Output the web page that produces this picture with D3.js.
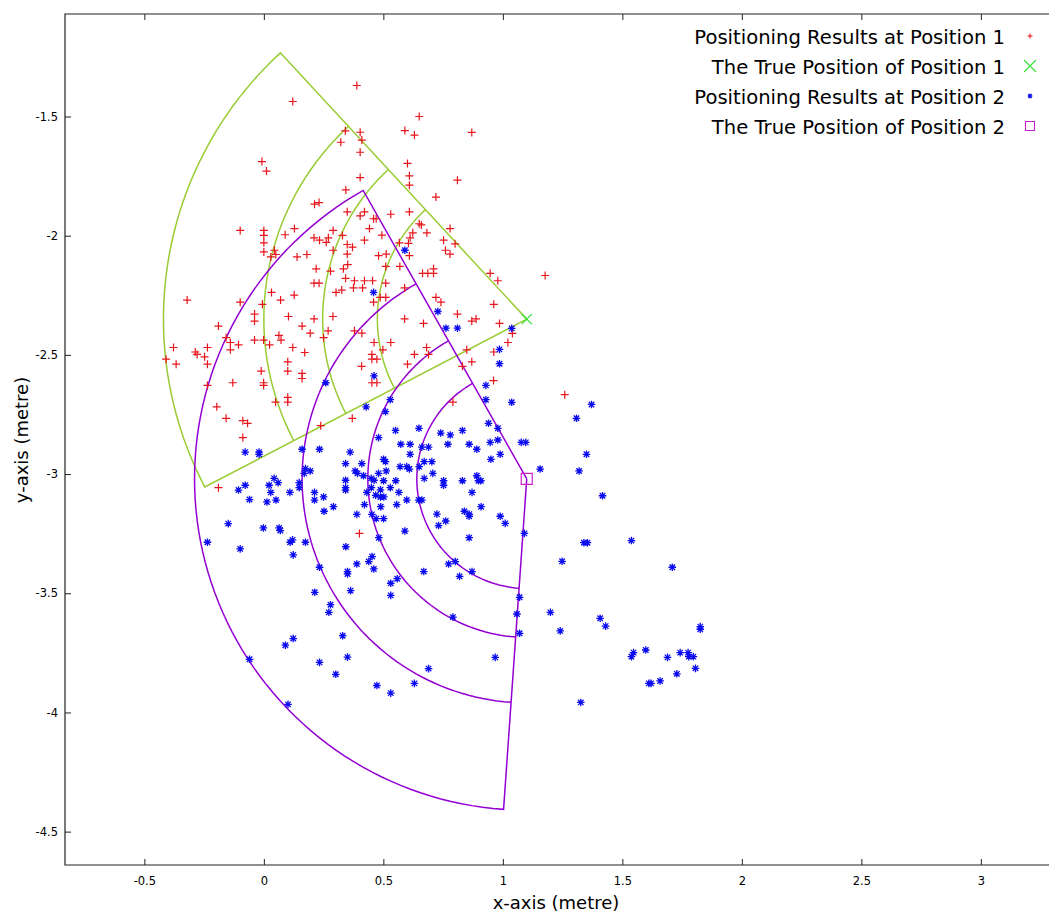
<!DOCTYPE html>
<html>
<head>
<meta charset="utf-8">
<script src="https://cdn.jsdelivr.net/npm/d3@7"></script>
<style>
body{margin:0;background:#fff}
svg{display:block}
text{font-family:"DejaVu Sans",Verdana,sans-serif;fill:#000}
</style>
</head>
<body>
<svg></svg>
<script>
// axis ticks
var xTicks = [-0.5, 0, 0.5, 1, 1.5, 2, 2.5, 3]
var yTicks = [-1.5, -2, -2.5, -3, -3.5, -4, -4.5]
var legendLabels = ["Positioning Results at Position 1", "The True Position of Position 1",
                    "Positioning Results at Position 2", "The True Position of Position 2"]

// true positions and the sectors drawn around them (radii in metre, angles in degrees)
var truePos1 = [1.1, -2.35]
var truePos2 = [1.1, -3.02]
var sector1Radii = [0.625, 0.854, 1.10, 1.52]
var sector1Angles = [132.7, 207.6]
var sector2Radii = [0.46, 0.665, 0.94, 1.39]
var sector2Angles = [119.5, 266]

// positioning results at position 1 (x, y)
var results1 = [
[0.121,-1.437],[-0.008,-1.689],[0.011,-1.729],[0.341,-1.560],[0.322,-1.608],[0.343,-1.808],[0.212,-1.868],[0.231,-1.861],
[0.349,-1.900],[-0.099,-1.978],[0.000,-1.978],[0.000,-1.999],[0.000,-2.030],[0.000,-2.068],[0.089,-1.996],[0.128,-1.970],
[0.044,-2.061],[0.050,-2.079],[0.029,-2.089],[0.139,-2.089],[0.180,-2.079],[0.210,-2.009],[0.233,-2.019],[0.261,-2.028],
[0.270,-2.009],[0.290,-1.978],[0.329,-1.999],[0.349,-2.037],[0.290,-2.061],[0.349,-2.077],
[0.389,-1.370],[0.650,-1.500],[0.590,-1.559],[0.630,-1.578],[0.870,-1.567],[0.403,-1.566],[0.410,-1.599],[0.403,-1.650],
[0.601,-1.697],[0.609,-1.749],[0.609,-1.788],[0.810,-1.767],[0.403,-1.756],[0.720,-1.838],[0.403,-1.917],[0.421,-1.900],
[0.459,-1.929],[0.470,-1.929],[0.531,-1.910],[0.609,-1.900],[0.650,-1.950],[0.659,-1.955],[0.682,-1.988],[0.623,-1.988],
[0.612,-2.009],[0.605,-2.032],[0.567,-2.030],[0.609,-2.084],[0.442,-1.970],[0.494,-1.998],[0.421,-2.019],[0.371,-2.048],
[0.480,-2.084],[0.512,-2.077],[0.752,-2.019],[0.760,-2.061],[0.779,-2.077],[0.800,-2.034],[0.779,-1.970],
[0.219,-2.139],[0.279,-2.149],[0.333,-2.139],[0.351,-2.121],[0.510,-2.129],[0.569,-2.129],[0.342,-2.179],[0.379,-2.189],
[0.421,-2.189],[0.455,-2.189],[0.510,-2.199],[0.210,-2.199],[0.231,-2.199],[0.302,-2.238],[0.326,-2.228],[0.375,-2.219],
[0.413,-2.219],[0.664,-2.158],[0.686,-2.158],[0.710,-2.139],[0.710,-2.158],[0.947,-2.158],[0.979,-2.189],[1.177,-2.167],
[-0.321,-2.270],[-0.099,-2.279],[-0.006,-2.288],[0.070,-2.270],[0.127,-2.249],[0.032,-2.238],[0.459,-2.279],[0.487,-2.259],
[0.510,-2.259],[0.589,-2.219],[0.720,-2.259],[0.741,-2.279],[-0.039,-2.329],[-0.039,-2.358],[0.103,-2.339],[0.210,-2.349],
[0.289,-2.339],[0.589,-2.349],[0.668,-2.368],[0.810,-2.329],[0.870,-2.358],[0.888,-2.349],[0.962,-2.288],[0.986,-2.368],
[-0.190,-2.379],[0.160,-2.379],[0.194,-2.409],[0.269,-2.399],[0.250,-2.428],[0.379,-2.399],[0.410,-2.409],[0.063,-2.418],
[0.072,-2.438],[-0.039,-2.438],[-0.001,-2.438],[0.024,-2.458],[0.121,-2.469],[0.171,-2.490],[0.461,-2.448],[0.531,-2.448],
[0.681,-2.469],[0.689,-2.498],[0.630,-2.498],[0.601,-2.539],[-0.378,-2.469],[-0.367,-2.539],[-0.409,-2.518],[-0.287,-2.488],
[-0.279,-2.498],[-0.248,-2.508],[-0.236,-2.469],[-0.236,-2.539],[-0.140,-2.448],[-0.140,-2.479],[-0.106,-2.458],[-0.158,-2.428],
[-0.011,-2.568],[-0.001,-2.617],[-0.001,-2.628],[0.100,-2.529],[0.100,-2.568],[0.160,-2.578],[0.160,-2.599],[0.452,-2.498],
[0.452,-2.518],[0.473,-2.518],[0.498,-2.479],[0.452,-2.617],[0.473,-2.617],[0.409,-2.548],[0.849,-2.479],[0.870,-2.529],
[0.962,-2.488],[1.021,-2.448],[0.831,-2.548],[0.961,-2.608],[-0.236,-2.628],[-0.130,-2.617],[-0.197,-2.718],[-0.158,-2.766],
[-0.088,-2.776],[-0.068,-2.787],[-0.088,-2.847],[0.049,-2.698],[0.100,-2.678],[0.100,-2.698],[0.370,-2.766],[0.238,-2.797],
[-0.190,-3.057],[0.791,-2.698],[0.400,-3.249],[1.259,-2.667],[1.040,-2.410]
]

// positioning results at position 2 (x, y)
var results2 = [
[0.590,-2.061],[0.459,-2.238],[0.728,-2.318],[0.762,-2.388],[0.810,-2.388],[1.037,-2.389],[0.986,-2.477],[0.986,-2.537],
[0.461,-2.588],[0.259,-2.617],[0.929,-2.628],[0.929,-2.688],[1.037,-2.699],[0.529,-2.688],[0.428,-2.718],[0.509,-2.738],
[0.940,-2.787],[0.979,-2.808],[0.551,-2.817],[0.649,-2.808],[0.740,-2.828],[0.780,-2.836],[0.831,-2.817],[1.077,-2.867],
[1.096,-2.867],[0.480,-2.847],[0.361,-2.908],[0.160,-2.896],[0.233,-2.896],[-0.078,-2.908],[-0.020,-2.908],[-0.020,-2.917],
[0.573,-2.875],[0.612,-2.875],[0.612,-2.917],[0.661,-2.887],[0.689,-2.887],[0.770,-2.875],[0.859,-2.875],[0.891,-2.896],
[0.947,-2.867],[0.979,-2.857],[0.950,-2.938],[0.989,-2.917],[1.156,-2.979],[0.342,-2.956],[0.410,-2.956],[0.501,-2.938],
[0.509,-2.948],[0.671,-2.948],[0.703,-2.948],[0.650,-2.969],[0.570,-2.969],[0.598,-2.969],[0.609,-2.979],[0.512,-2.987],
[0.480,-2.997],[0.174,-2.977],[0.194,-2.987],[0.169,-2.997],[0.382,-2.987],[0.392,-2.997],[0.417,-3.007],[0.449,-3.018],
[0.342,-3.026],[0.461,-3.026],[0.501,-3.028],[0.552,-3.028],[0.671,-3.018],[0.707,-2.997],[0.752,-3.028],[0.752,-3.047],
[0.831,-3.028],[0.891,-3.007],[0.898,-3.028],[0.908,-3.028],[0.043,-3.018],[0.022,-3.047],[0.060,-3.036],[0.148,-3.036],
[0.148,-3.057],[-0.078,-3.047],[-0.106,-3.067],[0.342,-3.057],[0.342,-3.067],[0.450,-3.057],[0.488,-3.066],[0.529,-3.057],
[0.431,-3.077],[0.468,-3.089],[0.488,-3.096],[0.502,-3.096],[0.565,-3.077],[0.598,-3.109],[0.648,-3.109],[0.661,-3.109],
[0.871,-3.077],[0.212,-3.077],[0.212,-3.109],[0.250,-3.096],[0.029,-3.077],[-0.060,-3.107],[0.013,-3.117],[0.051,-3.109],
[0.109,-3.077],[0.252,-3.156],[0.291,-3.137],[0.421,-3.128],[0.489,-3.137],[0.556,-3.128],[0.724,-3.168],[0.731,-3.216],
[0.761,-3.197],[0.839,-3.156],[0.859,-3.168],[0.859,-3.177],[0.909,-3.137],[0.989,-3.177],[1.010,-3.207],[1.090,-3.249],
[0.859,-3.267],[0.389,-3.169],[0.452,-3.169],[0.470,-3.187],[0.501,-3.187],[0.590,-3.239],[0.481,-3.267],[0.343,-3.305],
[0.174,-3.286],[0.110,-3.286],[0.120,-3.276],[-0.002,-3.226],[0.064,-3.226],[0.069,-3.237],[-0.149,-3.208],[-0.236,-3.286],
[-0.099,-3.314],
[0.123,-3.339],[0.389,-3.377],[0.439,-3.367],[0.453,-3.346],[0.460,-3.398],[0.350,-3.409],[0.350,-3.419],[0.363,-3.489],
[0.531,-3.458],[0.558,-3.439],[0.531,-3.509],[0.233,-3.391],[0.213,-3.496],[0.279,-3.548],[0.272,-3.580],[0.669,-3.409],
[0.773,-3.377],[0.801,-3.367],[0.819,-3.429],[0.871,-3.409],[1.070,-3.517],[1.059,-3.587],[1.070,-3.668],[0.791,-3.600],
[0.330,-3.678],[0.123,-3.690],[0.090,-3.718],[-0.060,-3.777],[0.233,-3.790],[0.350,-3.768],[0.301,-3.840],[0.473,-3.887],
[0.531,-3.919],[0.630,-3.878],[0.689,-3.816],[0.968,-3.769],[0.101,-3.966],
[1.308,-2.766],[1.371,-2.708],[1.350,-2.917],[1.319,-2.987],[1.417,-3.091],[1.339,-3.288],[1.354,-3.288],[1.538,-3.279],
[1.709,-3.391],[1.248,-3.366],[1.199,-3.580],[1.240,-3.658],[1.407,-3.605],[1.430,-3.638],[1.826,-3.651],[1.826,-3.640],
[1.547,-3.749],[1.538,-3.766],[1.598,-3.738],[1.689,-3.769],[1.742,-3.749],[1.775,-3.749],[1.778,-3.766],[1.797,-3.766],
[1.806,-3.815],[1.728,-3.838],[1.658,-3.868],[1.611,-3.878],[1.620,-3.878],[1.326,-3.958]
]

function main(){
    var width = 1049
    var height = 913
    var left = 65, top = 14, bottom = 865
    var svg = d3.select('svg').attr("width", width).attr("height", height)

    var xScale = d3.scaleLinear().domain([-0.832, 3.3]).range([left, left + 4.132*239])
    var yScale = d3.scaleLinear().domain([-4.64, -1.07]).range([bottom, top])
    var right = xScale(3.3)

    svg.append("clipPath").attr("id", "plotclip")
        .append("rect").attr("x", left).attr("y", top)
        .attr("width", right-left).attr("height", bottom-top)

    var plot = svg.append("g").attr("clip-path", "url(#plotclip)")

    // sectors
    var line = d3.line().x(d => xScale(d[0])).y(d => yScale(d[1]))
    function sectorLines(c, radii, ang){
        var a0 = ang[0]*Math.PI/180, a1 = ang[1]*Math.PI/180
        var rMax = d3.max(radii)
        var arcPts = r => d3.range(0, 81).map(i => {
            var a = a0 + (a1-a0)*i/80
            return [c[0] + r*Math.cos(a), c[1] + r*Math.sin(a)]
        })
        var outline = [c].concat(arcPts(rMax)).concat([c])
        return [outline].concat(radii.filter(r => r < rMax).map(arcPts))
    }
    plot.selectAll(".sec1").data(sectorLines(truePos1, sector1Radii, sector1Angles))
        .join("path").attr("class", "sec1")
        .attr("d", line).attr("fill", "none")
        .attr("stroke", "#99cc33").attr("stroke-width", 1.5)
    plot.selectAll(".sec2").data(sectorLines(truePos2, sector2Radii, sector2Angles))
        .join("path").attr("class", "sec2")
        .attr("d", line).attr("fill", "none")
        .attr("stroke", "#9400d3").attr("stroke-width", 1.5)

    // point symbols
    var plus = s => `M${-s},0H${s}M0,${-s}V${s}`
    var cross = s => `M${-s},${-s}L${s},${s}M${-s},${s}L${s},${-s}`
    var star = s => plus(s) + cross(s*0.72)
    var square = s => `M${-s},${-s}H${s}V${s}H${-s}Z`

    plot.selectAll(".p1").data(results1).join("path").attr("class", "p1")
        .attr("transform", d => `translate(${xScale(d[0])},${yScale(d[1])})`)
        .attr("d", plus(4)).attr("fill", "none").attr("stroke", "#e8141b").attr("stroke-width", 1.2)

    plot.append("path")
        .attr("transform", `translate(${xScale(truePos1[0])},${yScale(truePos1[1])})`)
        .attr("d", cross(5)).attr("fill", "none").attr("stroke", "#33e033").attr("stroke-width", 1.3)

    plot.selectAll(".p2").data(results2).join("path").attr("class", "p2")
        .attr("transform", d => `translate(${xScale(d[0])},${yScale(d[1])})`)
        .attr("d", star(3.8)).attr("fill", "none").attr("stroke", "#0a0af0").attr("stroke-width", 1.3)

    plot.append("path")
        .attr("transform", `translate(${xScale(truePos2[0])},${yScale(truePos2[1])})`)
        .attr("d", square(5.5)).attr("fill", "none").attr("stroke", "#cc22cc").attr("stroke-width", 1.2)

    // axes with inward ticks
    var fmt = d => String(d)
    var xAxis = d3.axisBottom(xScale).tickValues(xTicks).tickSizeInner(-6).tickSizeOuter(0).tickPadding(12)
        .tickFormat(fmt)
    var gx = svg.append("g").attr("class", "axis xAxis")
        .attr("transform", `translate(0,${bottom})`).call(xAxis)
    var gxt = svg.append("g").attr("transform", `translate(0,${top})`)
        .call(d3.axisTop(xScale).tickValues(xTicks).tickSizeInner(-6).tickSizeOuter(0).tickFormat(""))
    var yAxis = d3.axisLeft(yScale).tickValues(yTicks).tickSizeInner(-6).tickSizeOuter(0).tickPadding(7)
        .tickFormat(fmt)
    var gy = svg.append("g").attr("class", "axis yAxis")
        .attr("transform", `translate(${left},0)`).call(yAxis)
    ;[gx, gxt, gy].forEach(g => {
        g.select(".domain").remove()
        g.selectAll(".tick line").attr("stroke", "#222")
        g.selectAll(".tick text").style("font-size", "11.5px").attr("fill", "#000")
    })

    svg.append("path")
        .attr("d", `M${right},${top}H${left}V${bottom}H${right}`)
        .attr("fill", "none").attr("stroke", "#222").attr("stroke-width", 1.2)

    // axis titles
    svg.append("text").attr("x", 556).attr("y", 909).attr("text-anchor", "middle")
        .style("font-size", "18px").text("x-axis (metre)")
    svg.append("text").attr("transform", "translate(28,440) rotate(-90)").attr("text-anchor", "middle")
        .style("font-size", "18px").text("y-axis (metre)")

    // legend
    var legend = svg.append("g")
    var symbols = [
        {d: plus(2.5), stroke: "#e8141b"},
        {d: cross(6), stroke: "#33e033"},
        {d: star(2.5), stroke: "#0a0af0"},
        {d: square(4.5), stroke: "#cc22cc"}
    ]
    legendLabels.forEach((name, i) => {
        var yb = 44 + i*30
        legend.append("text").attr("x", 1005).attr("y", yb).attr("text-anchor", "end")
            .style("font-size", "19.6px").text(name)
        legend.append("path").attr("transform", `translate(1030,${yb-8})`)
            .attr("d", symbols[i].d).attr("fill", "none")
            .attr("stroke", symbols[i].stroke).attr("stroke-width", 1.1)
    })
}
main()
</script>
</body>
</html>
